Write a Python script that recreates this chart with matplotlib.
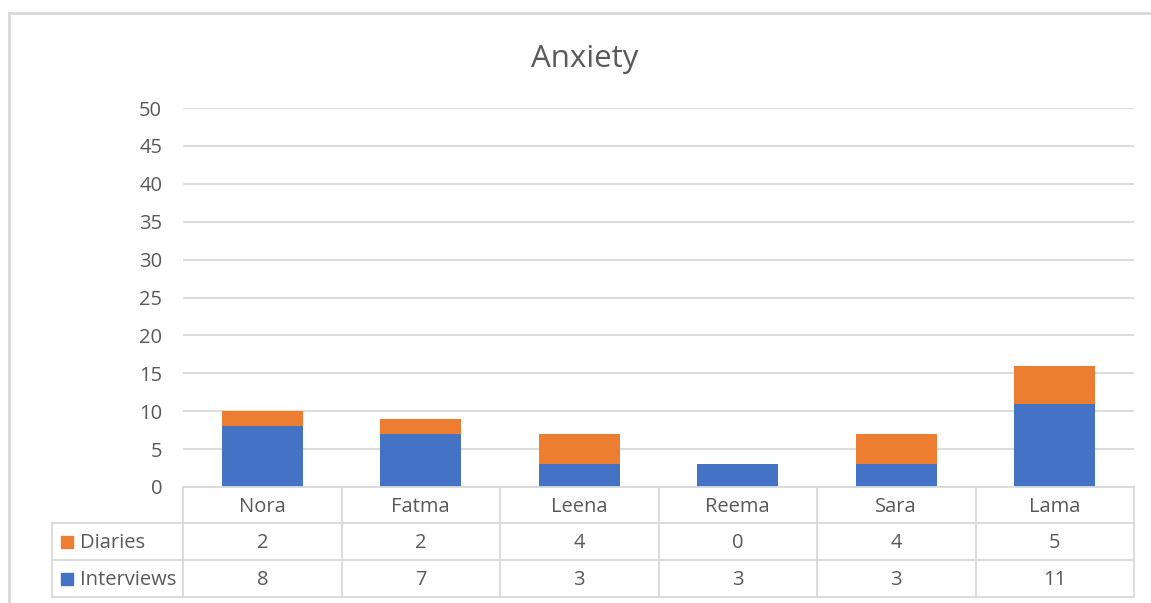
import matplotlib
matplotlib.use("Agg")
import matplotlib.pyplot as plt
from matplotlib.transforms import blended_transform_factory
from matplotlib.lines import Line2D
from matplotlib.patches import Rectangle

plt.rcParams['font.family'] = ['Open Sans', 'DejaVu Sans']

names = ["Nora", "Fatma", "Leena", "Reema", "Sara", "Lama"]
interviews = [8, 7, 3, 3, 3, 11]
diaries = [2, 2, 4, 0, 4, 5]
series_labels = ["Diaries", "Interviews"]
yticks = list(range(0, 55, 5))

BLUE = "#4472C4"
ORANGE = "#ED7D31"
GRID = "#D9D9D9"
TXT = "#595959"
FS = 14.5

W, H = 1151, 603
fig = plt.figure(figsize=(W / 100, H / 100), dpi=100)

def fx(px):
    return px / W

def fy(py):
    return 1 - py / H

ax = fig.add_axes([fx(183), fy(487), fx(1134) - fx(183), fy(108) - fy(487)])
x = list(range(len(names)))
ax.bar(x, interviews, width=0.51, color=BLUE, zorder=3)
ax.bar(x, diaries, width=0.51, bottom=interviews, color=ORANGE, zorder=3)
ax.set_xlim(-0.5, len(names) - 0.5)
ax.set_ylim(0, 50)
ax.set_yticks(yticks)
ax.set_yticklabels([str(t) for t in yticks], fontsize=FS, color=TXT)
ax.tick_params(axis='y', length=0, pad=15)
ax.set_xticks([])
for s in ax.spines.values():
    s.set_visible(False)
ax.grid(axis='y', color=GRID, linewidth=1.3, zorder=0)
ax.set_axisbelow(True)

# Title
fig.text(fx(585), fy(59), "Anxiety", ha='center', va='center', fontsize=22.5, color=TXT)

# Data table
tr = blended_transform_factory(ax.transData, fig.transFigure)
left_lab = -0.5 - (183 - 52) / ((1134 - 183) / 6)
rows_y = [fy(487), fy(523), fy(560), fy(597)]
lw = 1.3
dy = -1.5 / H

def hline(x0, x1, y):
    fig.add_artist(Line2D([x0, x1], [y, y], transform=tr, color=GRID, lw=lw, clip_on=False))

def vline(xv, y0, y1):
    fig.add_artist(Line2D([xv, xv], [y0, y1], transform=tr, color=GRID, lw=lw, clip_on=False))

hline(-0.5, len(names) - 0.5, rows_y[0])
for y in rows_y[1:]:
    hline(left_lab, len(names) - 0.5, y)
for i in range(len(names) + 1):
    vline(i - 0.5, rows_y[0], rows_y[3])
vline(left_lab, rows_y[1], rows_y[3])

for i, n in enumerate(names):
    fig.text(i, (rows_y[0] + rows_y[1]) / 2 + dy, n, transform=tr, ha='center', va='center',
             fontsize=FS, color=TXT)
    fig.text(i, (rows_y[1] + rows_y[2]) / 2 + dy, str(diaries[i]), transform=tr, ha='center',
             va='center', fontsize=FS, color=TXT)
    fig.text(i, (rows_y[2] + rows_y[3]) / 2 + dy, str(interviews[i]), transform=tr, ha='center',
             va='center', fontsize=FS, color=TXT)

# Legend keys in table
for lab, col, (ya, yb) in [(series_labels[0], ORANGE, (rows_y[1], rows_y[2])),
                            (series_labels[1], BLUE, (rows_y[2], rows_y[3]))]:
    yc = (ya + yb) / 2
    fig.add_artist(Rectangle((fx(61), yc - 6 / H), 12 / W, 12 / H, transform=fig.transFigure,
                             color=col))
    fig.text(fx(80), yc + dy, lab, ha='left', va='center', fontsize=FS, color=TXT)

# Outer chart border
fig.add_artist(Line2D([fx(9), fx(9)], [fy(13), 0], transform=fig.transFigure, color=GRID, lw=2))
fig.add_artist(Line2D([fx(9), 1], [fy(13), fy(13)], transform=fig.transFigure, color=GRID, lw=2))

fig.savefig("out.png", dpi=100)
